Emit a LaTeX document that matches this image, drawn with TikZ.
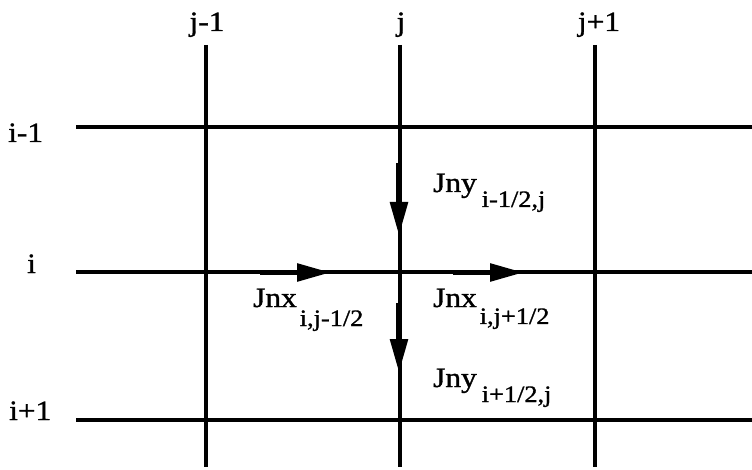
\documentclass[tikz,border=0pt]{standalone}
\usepackage{fontspec}
\setmainfont[FakeStretch=1.12,FakeBold=1.2]{Liberation Serif}
\usetikzlibrary{arrows.meta}
\tikzset{
  grid/.style={line width=4pt},
  flux/.style={line width=5.5pt,-{Triangle[length=34pt,width=17pt]}},
  lbl/.style={inner sep=0pt,font=\fontsize{28}{28}\selectfont},
}
\newcommand{\fluxlbl}[4]{#1\hspace{#2}\raisebox{#3}{\fontsize{23.5}{23.5}\selectfont #4}}
\begin{document}
\begin{tikzpicture}[x=1pt,y=-1pt]
\useasboundingbox (0,0) rectangle (752,470);
% grid coordinates
\coordinate (vj1t) at (206,45);  \coordinate (vj1b) at (206,467);
\coordinate (vjt)  at (400,45);  \coordinate (vjb)  at (400,467);
\coordinate (vj2t) at (595,45);  \coordinate (vj2b) at (595,467);
\coordinate (hi1l) at (76,127.5); \coordinate (hi1r) at (752,127.5);
\coordinate (hil)  at (76,272.5); \coordinate (hir)  at (752,272.5);
\coordinate (hi2l) at (76,420);   \coordinate (hi2r) at (752,420);
\draw[grid] (vj1t) -- (vj1b);
\draw[grid] (vjt) -- (vjb);
\draw[grid] (vj2t) -- (vj2b);
\draw[grid] (hi1l) -- (hi1r);
\draw[grid] (hil) -- (hir);
\draw[grid] (hi2l) -- (hi2r);
% index labels
\node[lbl,anchor=base] (lj1) at (207,31) {j-1};
\node[lbl,anchor=base] (lj)  at (401,31) {j};
\node[lbl,anchor=base] (lj2) at (599,31) {j+1};
\node[lbl,anchor=base west] (li1) at (8,142) {i-1};
\node[lbl,anchor=base west] (li)  at (27,273) {i};
\node[lbl,anchor=base west] (li2) at (9,420) {i+1};
% flux arrows
\coordinate (a1s) at (399,163); \coordinate (a1e) at (399,236);
\coordinate (a2s) at (260,272.5); \coordinate (a2e) at (331,272.5);
\coordinate (a3s) at (453,272.5); \coordinate (a3e) at (524,272.5);
\coordinate (a4s) at (399,303); \coordinate (a4e) at (399,373);
\draw[flux] (a1s) -- (a1e);
\draw[flux] (a2s) -- (a2e);
\draw[flux] (a3s) -- (a3e);
\draw[flux] (a4s) -- (a4e);
% flux labels
\node[lbl,anchor=base west] (jny1) at (433,192) {\fluxlbl{Jny}{5pt}{-15pt}{i-1/2,j}};
\node[lbl,anchor=base west] (jnx1) at (253,307) {\fluxlbl{Jnx}{3pt}{-19pt}{i,j-1/2}};
\node[lbl,anchor=base west] (jnx2) at (433,307) {\fluxlbl{Jnx}{3pt}{-17pt}{i,j+1/2}};
\node[lbl,anchor=base west] (jny2) at (433,387) {\fluxlbl{Jny}{5pt}{-15pt}{i+1/2,j}};
\end{tikzpicture}
\end{document}
